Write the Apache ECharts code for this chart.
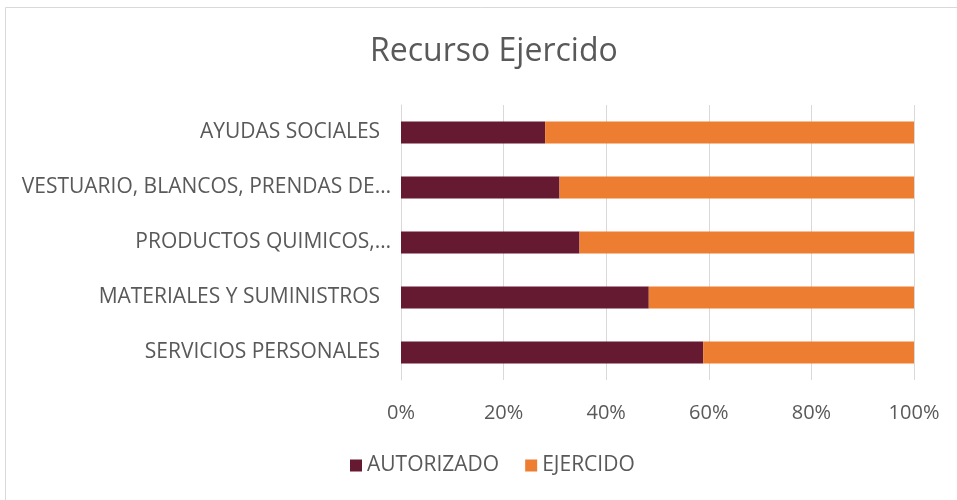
<!DOCTYPE html>
<html><head><meta charset="utf-8">
<script src="https://cdn.jsdelivr.net/npm/echarts@6/dist/echarts.min.js"></script>
<style>html,body{margin:0;padding:0;background:#fff}#c{width:957px;height:500px}</style>
</head><body><div id="c"></div>
<script>
const categories = ['SERVICIOS PERSONALES  ', 'MATERIALES Y SUMINISTROS  ', 'PRODUCTOS QUIMICOS,…', 'VESTUARIO, BLANCOS, PRENDAS DE…', 'AYUDAS SOCIALES  '];
const autorizado = [58.9, 48.3, 34.8, 30.9, 28.1];
const ejercido = [41.1, 51.7, 65.2, 69.1, 71.9];
const xTicks = [0, 20, 40, 60, 80, 100];

const chart = echarts.init(document.getElementById('c'), null, {renderer: 'canvas'});
const font = 'Open Sans';
chart.setOption({
  animation: false,
  textStyle: {fontFamily: font},
  graphic: [{
    type: 'rect', shape: {x: 5.5, y: 7.5, width: 1000, height: 600},
    style: {fill: 'none', stroke: '#d9d9d9', lineWidth: 1}, silent: true, z: -10
  }],
  title: {
    text: 'Recurso Ejercido', left: 365, top: 31,
    textStyle: {fontFamily: font, fontSize: 32, fontWeight: 'normal', color: '#595959'}
  },
  legend: {
    top: 450, left: 345, itemWidth: 12, itemHeight: 12, itemGap: 26,
    icon: 'rect',
    textStyle: {fontFamily: font, fontSize: 21, color: '#595959'},
    data: ['AUTORIZADO', 'EJERCIDO']
  },
  grid: {left: 401, right: 43, top: 105, height: 275, containLabel: false},
  xAxis: {
    type: 'value', min: 0, max: 100, interval: 20,
    axisLine: {show: false}, axisTick: {show: false},
    splitLine: {show: true, lineStyle: {color: '#d9d9d9', width: 1}},
    axisLabel: {
      margin: 23, fontFamily: font, fontSize: 20, color: '#595959',
      formatter: v => xTicks.includes(v) ? v + '%' : ''
    }
  },
  yAxis: {
    type: 'category', data: categories,
    axisLine: {show: true, lineStyle: {color: '#d9d9d9'}}, axisTick: {show: false},
    axisLabel: {margin: 10, fontFamily: font, fontSize: 21, color: '#595959'}
  },
  series: [
    {name: 'AUTORIZADO', type: 'bar', stack: 't', data: autorizado, barWidth: 22,
     itemStyle: {color: '#651A32'}},
    {name: 'EJERCIDO', type: 'bar', stack: 't', data: ejercido, barWidth: 22,
     itemStyle: {color: '#ED7D31'}}
  ]
});
</script></body></html>
